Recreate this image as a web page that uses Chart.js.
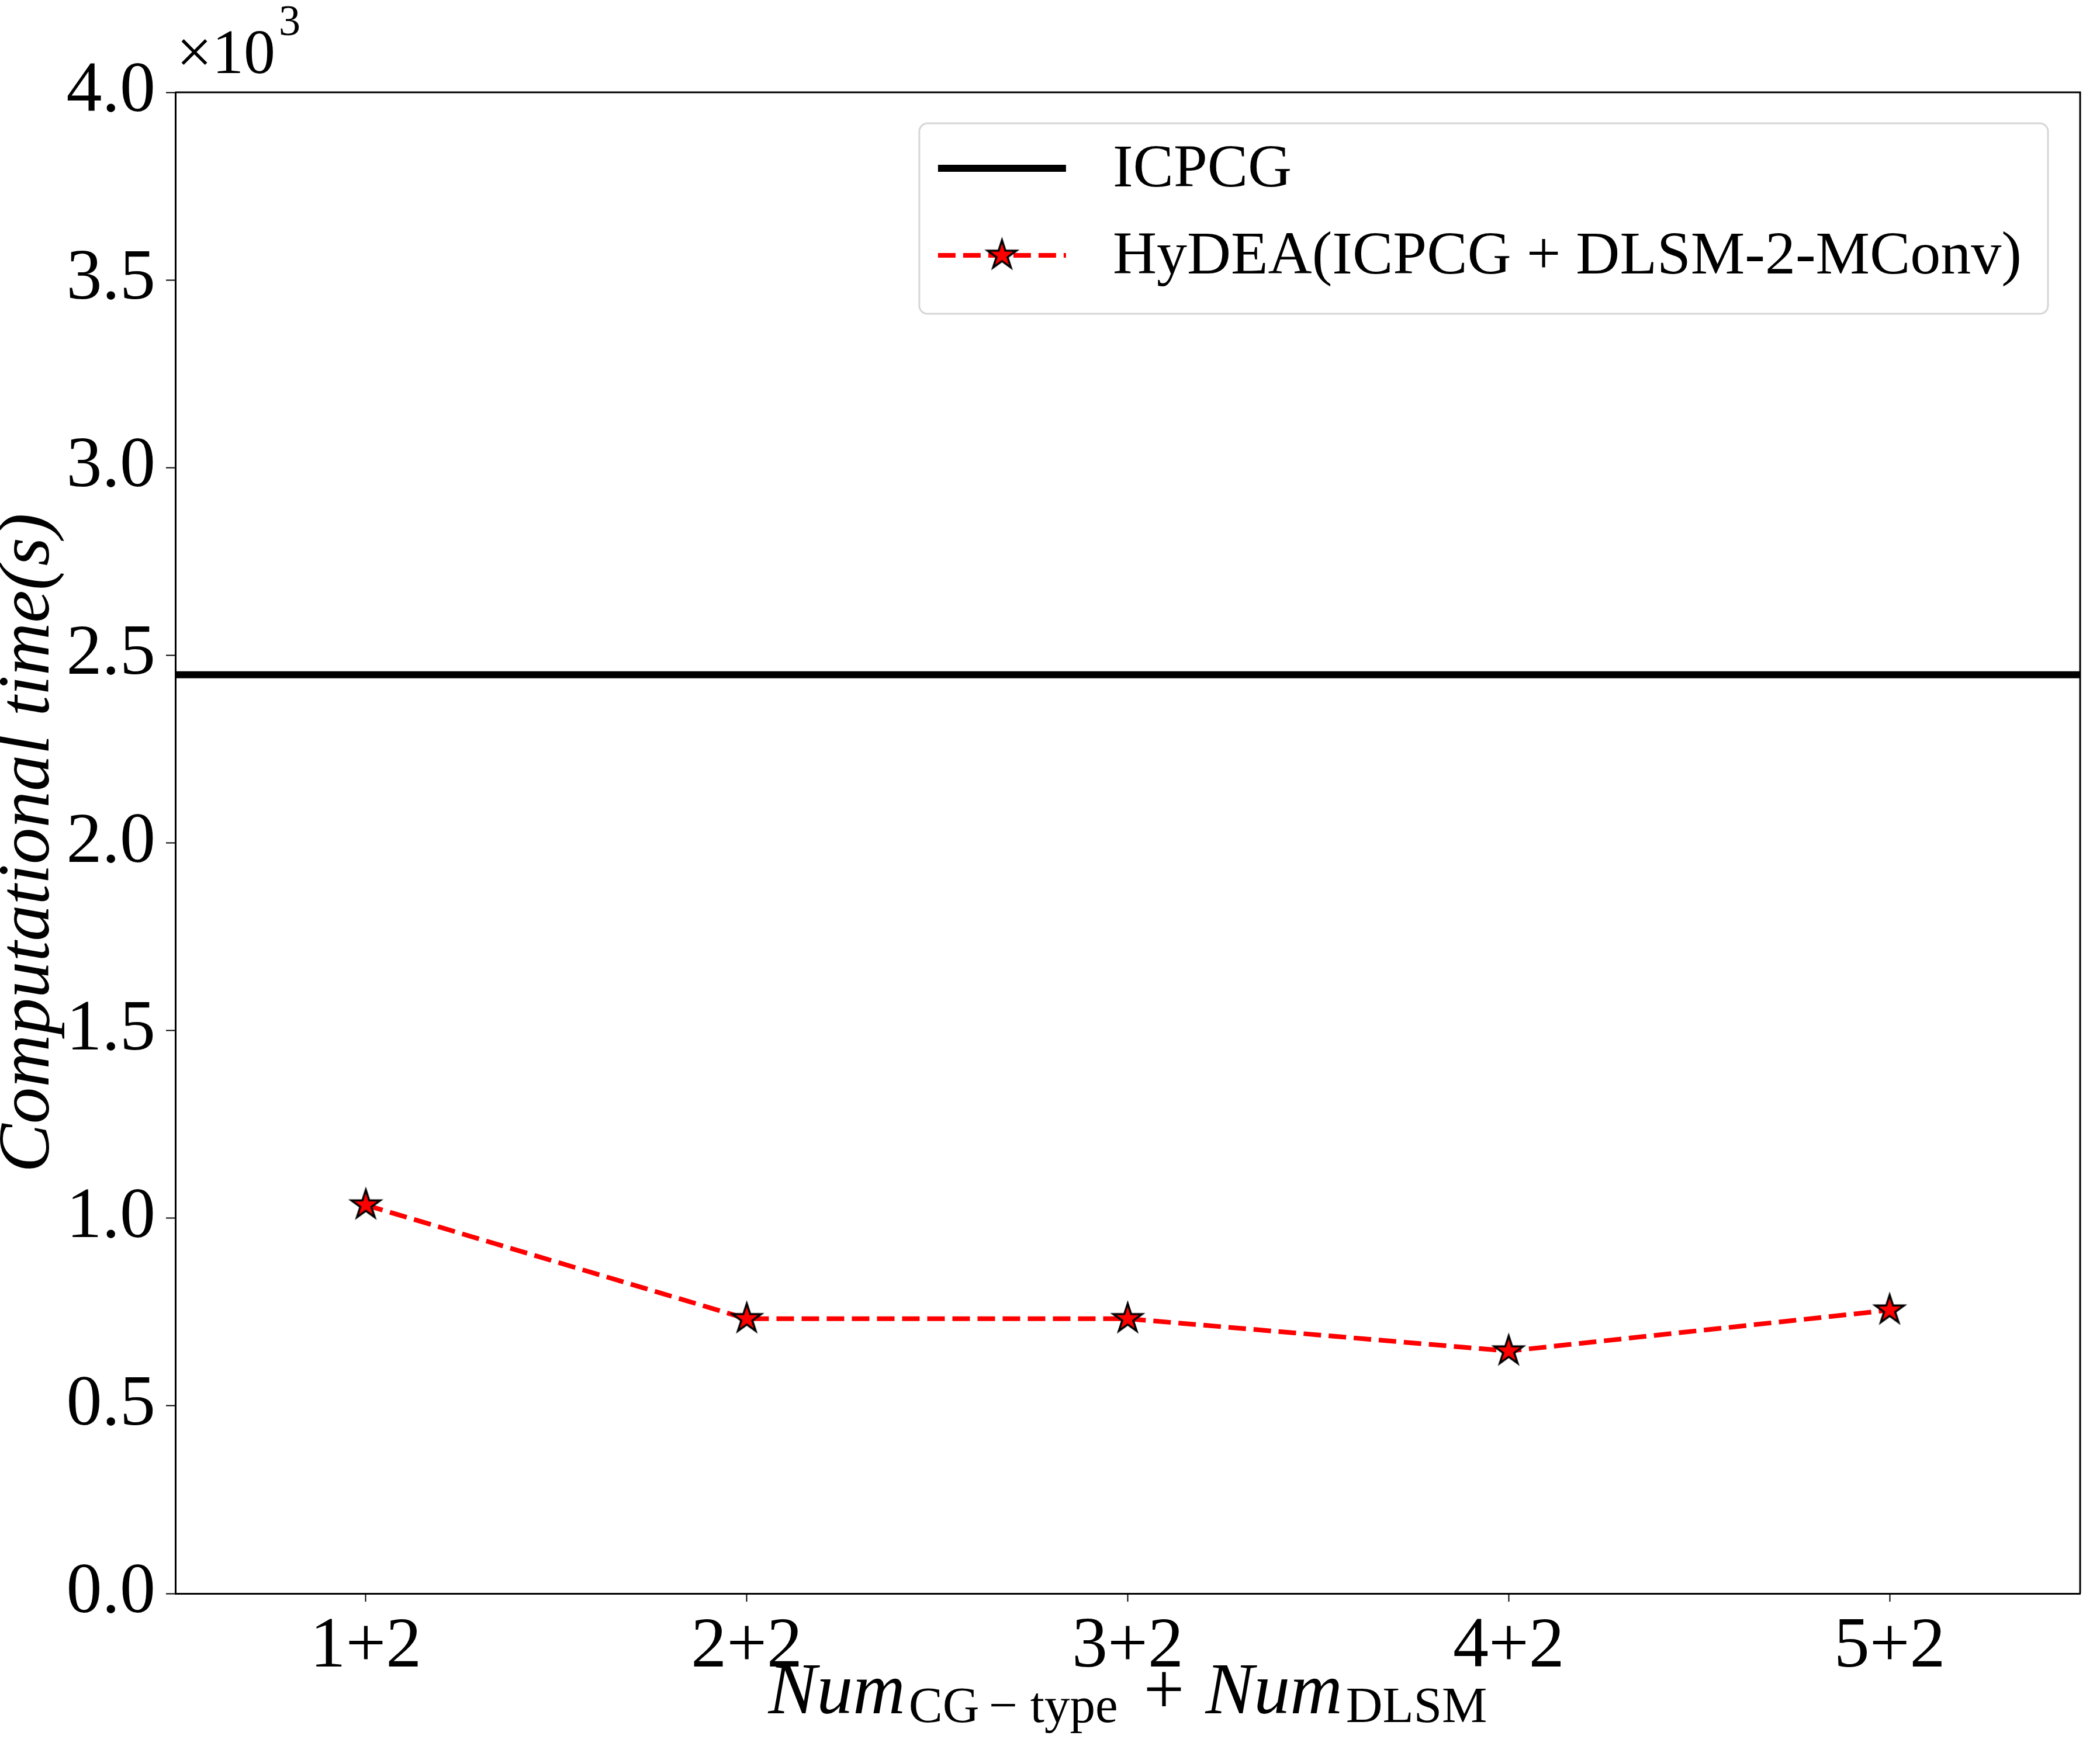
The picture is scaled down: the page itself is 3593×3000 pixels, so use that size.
<!DOCTYPE html>
<html>
<head>
<meta charset="utf-8">
<script src="https://cdn.jsdelivr.net/npm/chart.js@4.4.1/dist/chart.umd.min.js"></script>
<style>
  html, body { margin: 0; padding: 0; background: #fff; }
  #wrap { width: 3593px; height: 3000px; }
</style>
</head>
<body>
<div id="wrap"><canvas id="chart" width="3593" height="3000"></canvas></div>
<script>
const categories = ["1+2", "2+2", "3+2", "4+2", "5+2"];
const hydeaTimes = [1035, 732, 732, 646, 755];
const icpcgTime = [2448];
const yTicks = [0, 500, 1000, 1500, 2000, 2500, 3000, 3500, 4000];
const seriesLabels = ["ICPCG", "HyDEA(ICPCG + DLSM-2-MConv)"];

const SERIF = '"Liberation Serif", "Times New Roman", serif';

function makeStar(R, fill, edge, lw) {
    const size = Math.ceil(2 * R + lw * 2 + 6);
    const c = document.createElement("canvas");
    c.width = size;
    c.height = size;
    const ctx = c.getContext("2d");
    ctx.translate(size / 2, size / 2);
    ctx.beginPath();
    for (let i = 0; i < 10; i++) {
        const a = -Math.PI / 2 + i * Math.PI / 5;
        const r = i % 2 ? R * 0.381966 : R;
        const px = r * Math.cos(a), py = r * Math.sin(a);
        if (i === 0) ctx.moveTo(px, py); else ctx.lineTo(px, py);
    }
    ctx.closePath();
    ctx.fillStyle = fill;
    ctx.fill();
    ctx.lineJoin = "miter";
    ctx.lineWidth = lw;
    ctx.strokeStyle = edge;
    ctx.stroke();
    return c;
}

const star = makeStar(26, "#ff0000", "#000000", 3.5);

// frame, x label, exponent and legend
const decorPlugin = {
    id: "decor",
    afterDraw(chart) {
        const ctx = chart.ctx;
        const a = chart.chartArea;
        ctx.save();

        // top and right spines
        ctx.strokeStyle = "#000";
        ctx.lineWidth = 3;
        ctx.beginPath();
        ctx.moveTo(a.left, a.top);
        ctx.lineTo(a.right, a.top);
        ctx.lineTo(a.right, a.bottom);
        ctx.stroke();

        // x10^3
        ctx.fillStyle = "#000";
        ctx.textBaseline = "alphabetic";
        ctx.textAlign = "left";
        ctx.font = `108px ${SERIF}`;
        ctx.fillText("\u00d710", a.left + 2, 125);
        const w10 = ctx.measureText("\u00d710").width;
        ctx.font = `74px ${SERIF}`;
        ctx.fillText("3", a.left + 2 + w10 + 6, 60);

        // x axis label with subscripts
        const big = `italic 124px ${SERIF}`;
        const bigUp = `124px ${SERIF}`;
        const sub = `87px ${SERIF}`;
        const pieces = [
            { t: "Num", f: big, dy: 0, gap: 0 },
            { t: "CG", f: sub, dy: 15, gap: 6 },
            { t: "\u2212", f: sub, dy: 15, gap: 16 },
            { t: "type", f: sub, dy: 15, gap: 22 },
            { t: "+", f: bigUp, dy: 0, gap: 44 },
            { t: "Num", f: big, dy: 0, gap: 36 },
            { t: "DLSM", f: sub, dy: 15, gap: 6 }
        ];
        let total = 0;
        for (const p of pieces) {
            ctx.font = p.f;
            p.w = ctx.measureText(p.t).width;
            total += p.gap + p.w;
        }
        let x = (a.left + a.right) / 2 - total / 2;
        const base = 2932;
        for (const p of pieces) {
            x += p.gap;
            ctx.font = p.f;
            ctx.fillText(p.t, x, base + p.dy);
            x += p.w;
        }

        // legend
        const ds = chart.data.datasets;
        ctx.font = `104px ${SERIF}`;
        let maxW = 0;
        for (const d of ds) maxW = Math.max(maxW, ctx.measureText(d.label).width);
        const handleL = 219, padL = 32, gapT = 80, padR = 45;
        const boxW = padL + handleL + gapT + maxW + padR;
        const boxH = 326;
        const right = a.right - 55;
        const left = right - boxW;
        const top = a.top + 53;
        ctx.fillStyle = "rgba(255,255,255,0.8)";
        ctx.strokeStyle = "#d6d6d6";
        ctx.lineWidth = 3;
        ctx.beginPath();
        ctx.roundRect(left, top, boxW, boxH, 14);
        ctx.fill();
        ctx.stroke();
        const rows = [top + 77, top + 226];
        ds.forEach((d, i) => {
            const cy = rows[i];
            const hx = left + padL;
            ctx.save();
            ctx.strokeStyle = d.borderColor;
            ctx.lineWidth = d.borderWidth;
            ctx.setLineDash(d.borderDash || []);
            ctx.beginPath();
            ctx.moveTo(hx, cy);
            ctx.lineTo(hx + handleL, cy);
            ctx.stroke();
            ctx.restore();
            if (d.pointStyle instanceof HTMLCanvasElement) {
                const s = d.pointStyle;
                ctx.drawImage(s, hx + handleL / 2 - s.width / 2, cy - s.height / 2);
            }
            ctx.fillStyle = "#000";
            ctx.font = `104px ${SERIF}`;
            ctx.textBaseline = "middle";
            ctx.fillText(d.label, hx + handleL + gapT, cy + 4);
        });
        ctx.restore();
    }
};

const ctx = document.getElementById("chart").getContext("2d");
new Chart(ctx, {
    type: "line",
    data: {
        datasets: [
            {
                label: seriesLabels[0],
                data: [
                    { x: 0.5, y: icpcgTime[0] },
                    { x: categories.length + 0.5, y: icpcgTime[0] }
                ],
                borderColor: "#000000",
                borderWidth: 12,
                pointRadius: 0,
                tension: 0
            },
            {
                label: seriesLabels[1],
                data: hydeaTimes.map((v, i) => ({ x: i + 1, y: v })),
                borderColor: "#ff0000",
                borderWidth: 8,
                borderDash: [30, 13],
                pointStyle: star,
                pointRadius: 26,
                tension: 0
            }
        ]
    },
    options: {
        responsive: false,
        animation: false,
        devicePixelRatio: 1,
        layout: { padding: { top: 158, right: 30, left: 0, bottom: 0 } },
        plugins: {
            legend: { display: false },
            tooltip: { enabled: false }
        },
        scales: {
            x: {
                type: "linear",
                min: 0.5,
                max: categories.length + 0.5,
                afterBuildTicks: (scale) => {
                    scale.ticks = categories.map((c, i) => ({ value: i + 1 }));
                },
                afterFit: (scale) => { scale.height = 273; },
                ticks: {
                    callback: (v) => categories[v - 1],
                    color: "#000",
                    font: { family: SERIF, size: 122 },
                    padding: 6,
                    maxRotation: 0
                },
                grid: {
                    drawOnChartArea: false,
                    tickLength: 14,
                    tickWidth: 2,
                    tickColor: "#000"
                },
                border: { display: true, color: "#000", width: 3 }
            },
            y: {
                type: "linear",
                min: 0,
                max: 4000,
                afterBuildTicks: (scale) => {
                    scale.ticks = yTicks.map((v) => ({ value: v }));
                },
                afterFit: (scale) => { scale.width = 300; },
                ticks: {
                    callback: (v) => (v / 1000).toFixed(1),
                    color: "#000",
                    font: { family: SERIF, size: 122 },
                    padding: 18
                },
                grid: {
                    drawOnChartArea: false,
                    tickLength: 16,
                    tickWidth: 2,
                    tickColor: "#000"
                },
                border: { display: true, color: "#000", width: 3 },
                title: {
                    display: true,
                    text: "Computational time(s)",
                    color: "#000",
                    font: { family: SERIF, size: 125, style: "italic", lineHeight: 0.8 },
                    padding: 0
                }
            }
        }
    },
    plugins: [decorPlugin]
});
</script>
</body>
</html>
